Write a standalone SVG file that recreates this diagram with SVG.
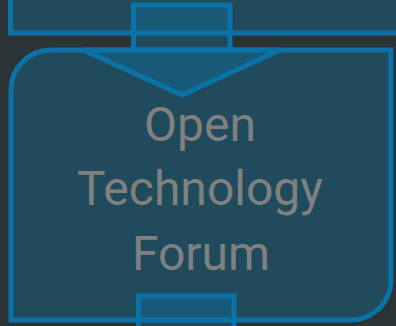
<svg xmlns="http://www.w3.org/2000/svg" width="396" height="326" viewBox="0 0 396 326">
  <style>
    .box { fill: #1f4b5c; stroke: #0a72a6; stroke-width: 5; }
    .port { fill: #0a7ab2; fill-opacity: 0.32; stroke: #0a72a6; stroke-width: 5; }
    .label { font-family: Roboto, "Liberation Sans", sans-serif; font-size: 48px; fill: #808080; text-anchor: middle; }
  </style>
  <rect width="396" height="326" fill="#2b3337"/>
  <g id="node-top">
    <rect class="box" x="10.5" y="-30" width="420" height="63"/>
  </g>
  <g id="node-forum">
    <path class="box" d="M51,50 H391 V280 A40,40 0 0 1 351,320 H11 V90 A40,40 0 0 1 51,50 Z"/>
    <text class="label" x="200" y="141">Open</text>
    <text class="label" x="200" y="205">Technology</text>
    <text class="label" x="201" y="270">Forum</text>
  </g>
  <g id="connectors">
    <rect class="port" x="133.5" y="5" width="96.5" height="45"/>
    <polygon class="port" points="83,50 280,50 182,95" stroke-linejoin="miter"/>
    <rect class="port" x="138.5" y="296" width="95.5" height="50"/>
  </g>
</svg>
